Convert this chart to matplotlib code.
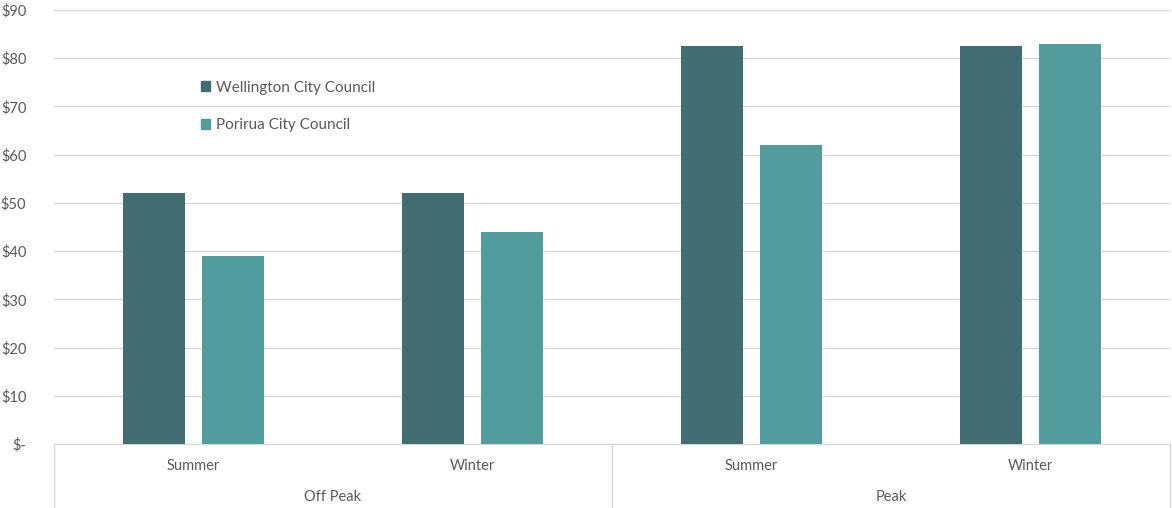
import numpy as np
import matplotlib.pyplot as plt
from matplotlib.patches import Patch

# data
seasons = ['Summer', 'Winter', 'Summer', 'Winter']
periods = ['Off Peak', 'Peak']
wellington = [52, 52, 82.5, 82.5]
porirua = [39, 44, 62, 83]
series_names = ['Wellington City Council', 'Porirua City Council']
y_ticks = [0, 10, 20, 30, 40, 50, 60, 70, 80, 90]

plt.rcParams['font.family'] = ['Lato', 'DejaVu Sans']
txt = '#595959'
grid_c = '#D9D9D9'
colors = ['#426E73', '#529C9E']

fig = plt.figure(figsize=(11.72, 5.08), dpi=100)
ax = fig.add_axes([54/1172, 64/508, 1116/1172, 434/508])

x = np.arange(len(seasons))
w = 0.222
off = 0.1416
ax.bar(x - off, wellington, w, color=colors[0], zorder=3)
ax.bar(x + off, porirua, w, color=colors[1], zorder=3)

ax.set_xlim(-0.5, len(seasons) - 0.5)
ax.set_ylim(0, 90)
ax.set_yticks(y_ticks)
ax.set_yticklabels(['$-' if v == 0 else f'${v}' for v in y_ticks])
ax.yaxis.grid(True, color=grid_c, lw=1)
ax.set_axisbelow(True)
ax.tick_params(axis='y', length=0, pad=20, labelsize=10.5, labelcolor=txt)
ax.tick_params(axis='x', length=0)
ax.set_xticks([])
for s in ['top', 'right', 'left']:
    ax.spines[s].set_visible(False)
ax.spines['bottom'].set_color(grid_c)

# category labels
trans = ax.get_xaxis_transform()
for i, s in enumerate(seasons):
    ax.text(i, -0.05, s, ha='center', va='center', fontsize=10.5, color=txt, transform=trans)
n_per = len(seasons) // len(periods)
for j, p in enumerate(periods):
    ax.text(j * n_per + (n_per - 1) / 2, -0.122, p, ha='center', va='center',
            fontsize=10.5, color=txt, transform=trans)
for b in np.arange(len(periods) + 1) * n_per - 0.5:
    ax.plot([b, b], [0, -0.148], color=grid_c, lw=1, transform=trans, clip_on=False)

handles = [Patch(color=c) for c in colors]
leg = ax.legend(handles, series_names, loc='upper left', bbox_to_anchor=(0.1195, 0.869),
                frameon=False, fontsize=11, handlelength=0.6, handleheight=0.6,
                handletextpad=0.4, labelspacing=1.55)
for t in leg.get_texts():
    t.set_color(txt)

fig.savefig('out.png', dpi=100)
